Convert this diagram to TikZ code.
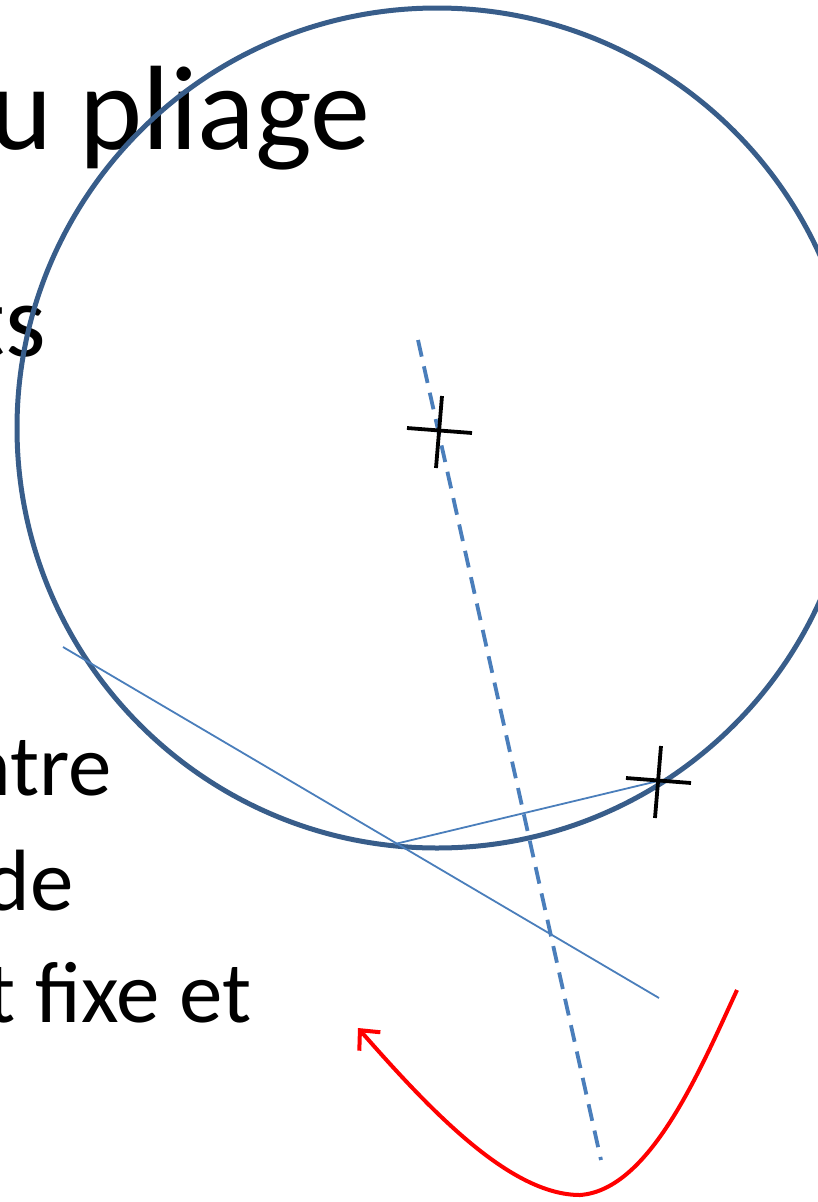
\documentclass[tikz,border=0pt]{standalone}
\usepackage{fontspec}
\setmainfont{Carlito}
\usepackage{tikz}
\usetikzlibrary{arrows.meta}
\definecolor{circleblue}{HTML}{385D8A}
\definecolor{lineblue}{HTML}{4A7EBB}

\begin{document}
\begin{tikzpicture}[x=1pt, y=-1pt]
            \tikzset{circleline/.style={draw=circleblue, line width=5pt}}
            \tikzset{thinline/.style={draw=lineblue, line width=1.8pt}}
            \tikzset{foldline/.style={draw=lineblue, line width=3.8pt, dash pattern=on 17pt off 10pt}}
            \tikzset{crossline/.style={draw=black, line width=3.8pt}}
            \tikzset{redcurve/.style={draw=red, line width=4pt, -{Straight Barb[length=15pt, width=28pt]}}}
            \tikzset{crossmark/.pic={
                    \draw[crossline] (-32,-3) -- (33,2);
                    \draw[crossline] (3,-35) -- (-3,37);
                }}
            \useasboundingbox (0,0) rectangle (817,1202);

            % texte de la diapositive
            \node[anchor=base east, inner sep=0pt, font=\fontsize{120}{144}\selectfont] (titre) at (371,149) {u pliage};
            \node[anchor=base east, inner sep=0pt, font=\fontsize{104}{125}\selectfont] (ligne1) at (46,356) {ts};
            \node[anchor=base east, inner sep=0pt, font=\fontsize{87}{104}\selectfont] (ligne2) at (112,795) {ntre};
            \node[anchor=base east, inner sep=0pt, font=\fontsize{87}{104}\selectfont] (ligne3) at (74,910) {de};
            \node[anchor=base east, inner sep=0pt, font=\fontsize{87}{104}\selectfont] (ligne4) at (252,1022) {t fixe et};

            % points
            \coordinate (O) at (437,428);
            \coordinate (F) at (439,431);
            \coordinate (P) at (658,781);
            \coordinate (M) at (395,844);
            \coordinate (tangA) at (63,647);
            \coordinate (tangB) at (659,998);
            \coordinate (plisA) at (418,340);
            \coordinate (plisB) at (601,1160);
            \coordinate (courbeA) at (737,990);
            \coordinate (courbeB) at (580,1195);
            \coordinate (courbeC) at (358,1028);

            % cercle et lignes
            \draw[circleline] (O) circle (420);
            \draw[thinline] (tangA) -- (tangB);
            \draw[thinline] (M) -- (P);
            \draw[foldline] (plisA) -- (plisB);
            \pic at (F) {crossmark};
            \pic at (P) {crossmark};

            % courbe rouge
            \draw[redcurve] (courbeA) .. controls (700,1070) and (650,1190) .. (courbeB)
                .. controls (510,1195) and (430,1110) .. (courbeC);
        \end{tikzpicture}
\end{document}
